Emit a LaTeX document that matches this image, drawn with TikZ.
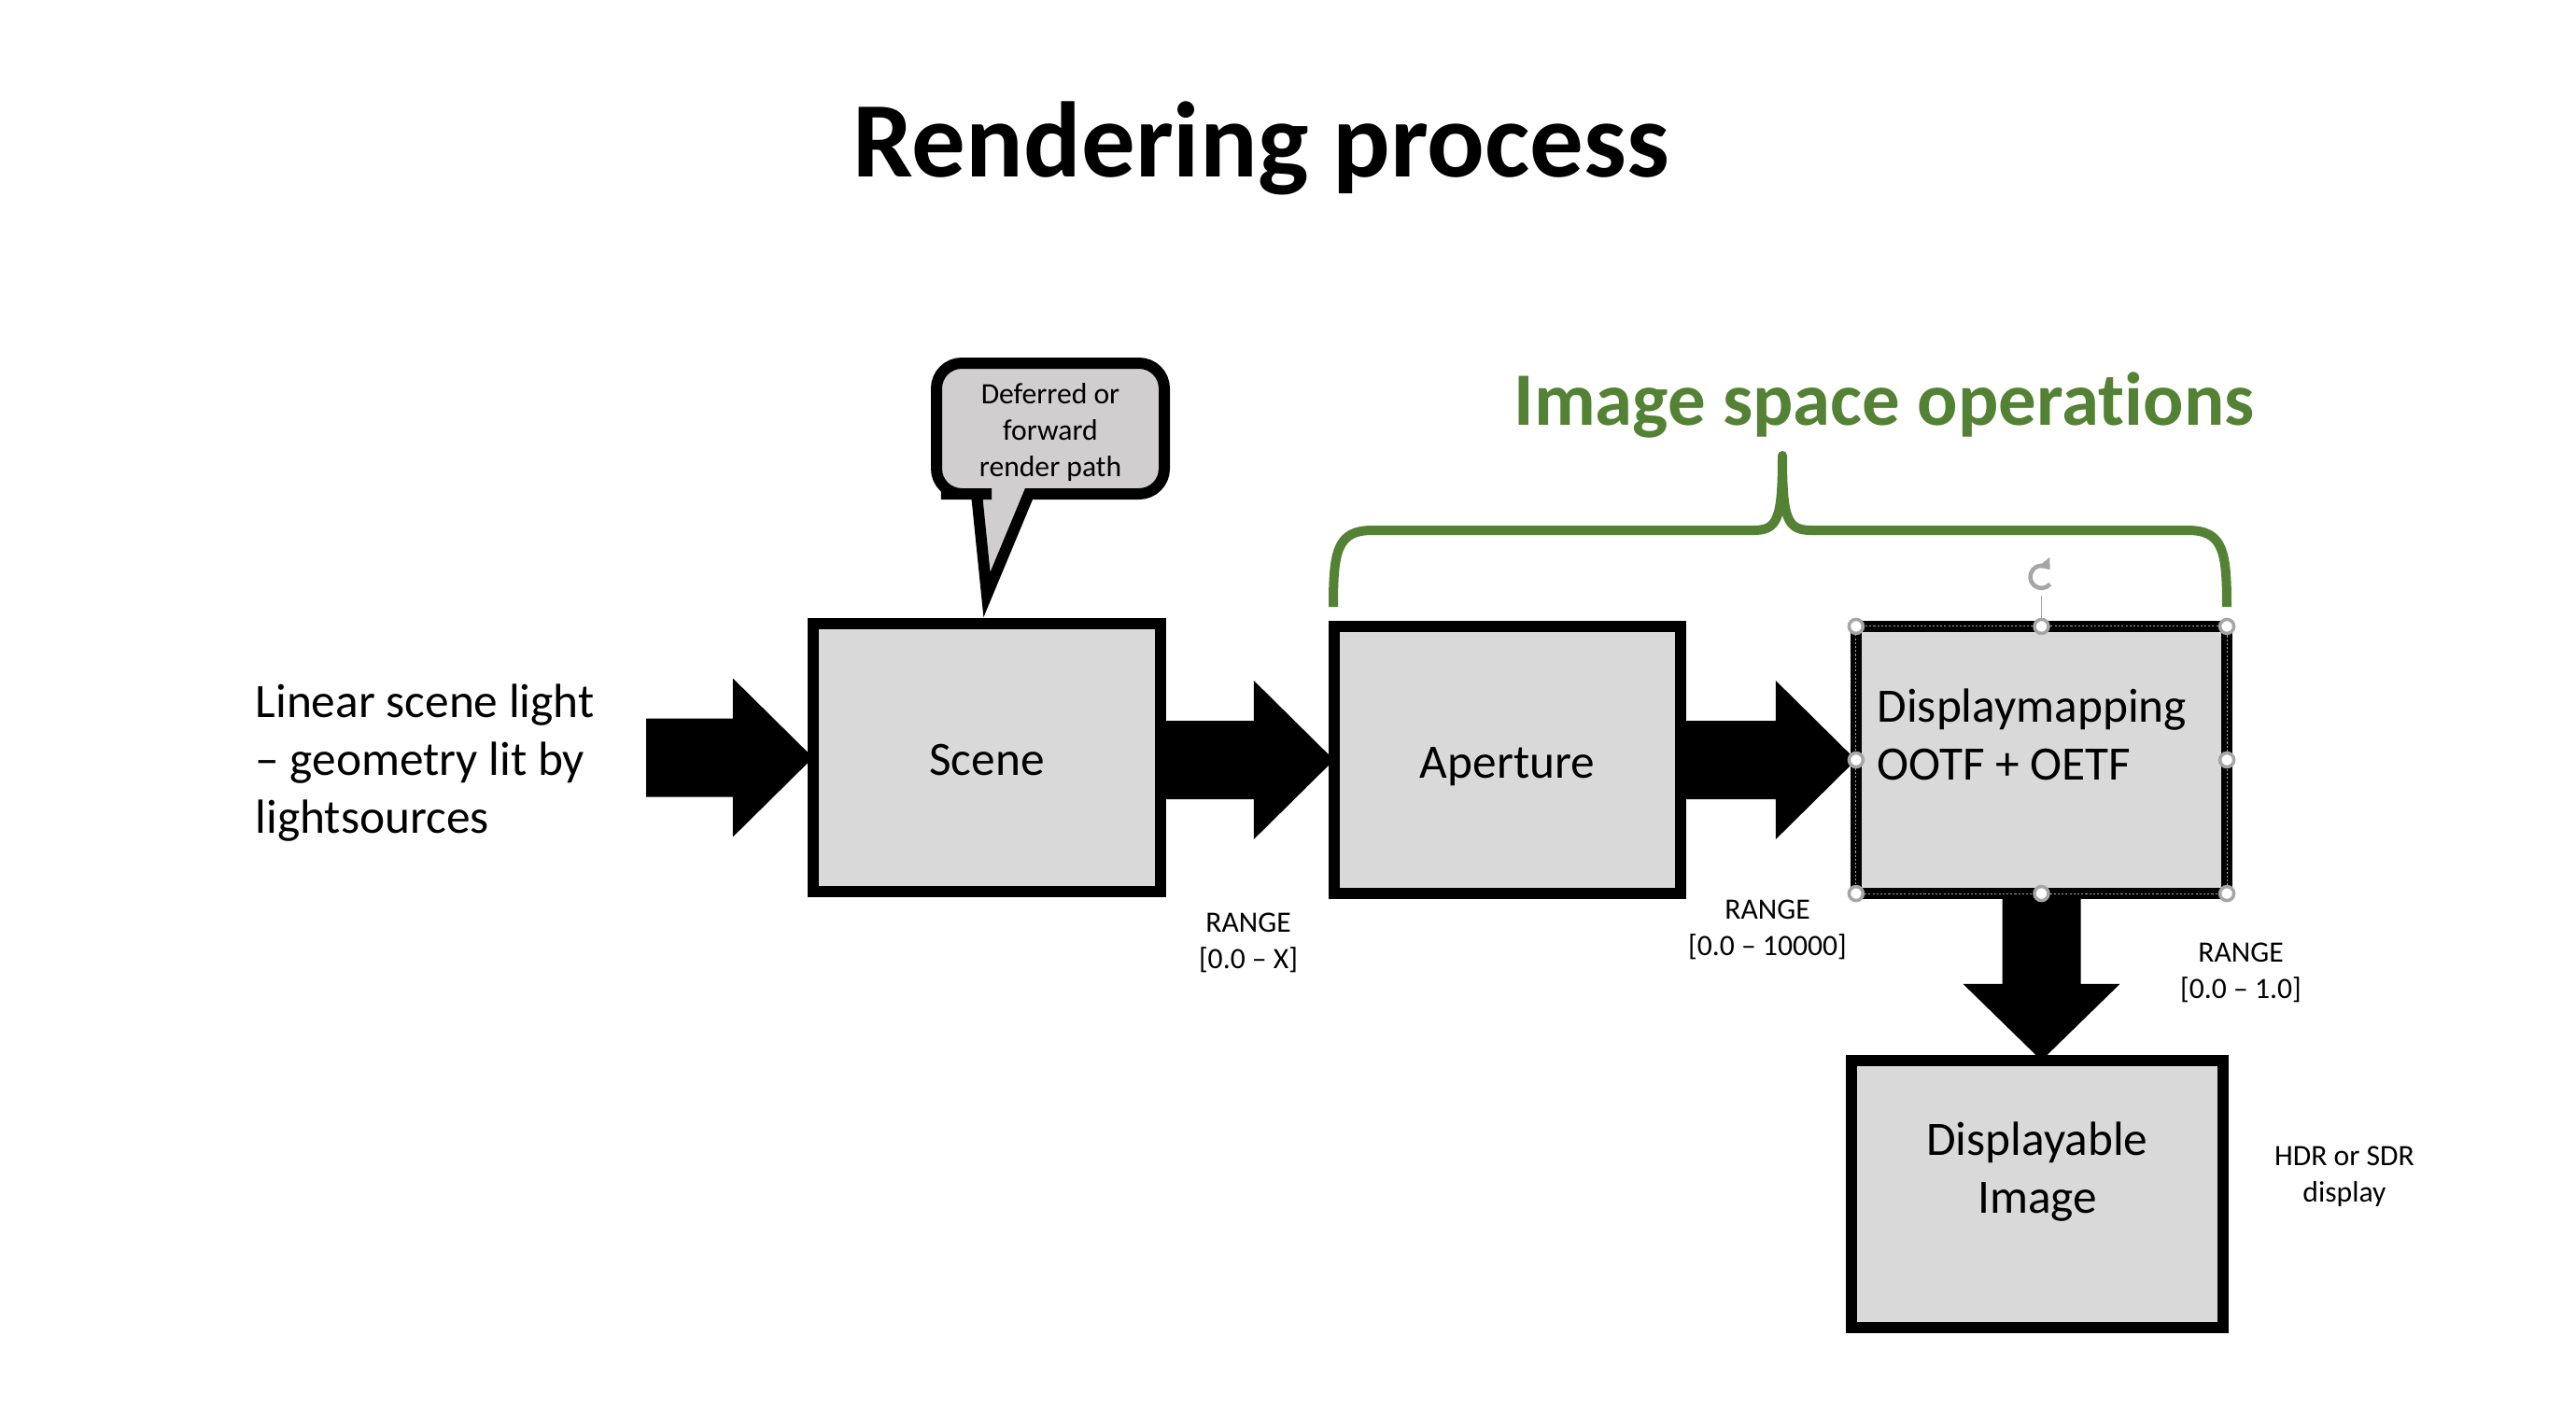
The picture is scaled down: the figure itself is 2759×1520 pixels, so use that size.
\documentclass[tikz,border=0pt]{standalone}
\usepackage{fontspec}
\setmainfont{Carlito}[Ligatures=NoCommon]
\usepackage{tikz}
\usetikzlibrary{calc,arrows.meta}
\definecolor{boxgray}{HTML}{D9D9D9}
\definecolor{callgray}{HTML}{D0CECE}
\definecolor{opgreen}{HTML}{548235}
\definecolor{selgray}{HTML}{A6A6A6}
\tikzset{
  box/.style={draw=black, fill=boxgray, line width=0.12cm, outer sep=0pt, inner sep=0pt,
    text height=10.8pt, text depth=0pt, font=\fontsize{14.6}{17.6}\selectfont},
  flow/.style={fill=black},
  brace/.style={draw=opgreen, line width=0.1cm, line join=round},
  callout/.style={draw=black, fill=callgray, line width=0.12cm, line join=miter},
  lab/.style={inner sep=0pt, font=\fontsize{14.6}{17.6}\selectfont},
  labs/.style={inner sep=0pt, align=center, font=\fontsize{9}{11}\selectfont},
  heading/.style={inner sep=0pt, anchor=base, font=\fontsize{32.7}{38}\selectfont\bfseries},
  opshead/.style={heading, text=opgreen, font=\fontsize{23}{27}\selectfont\bfseries},
  handle/.style={circle, draw=selgray, fill=white, line width=1pt, minimum size=0.15cm, inner sep=0pt},
  seldash/.style={draw=selgray, line width=0.3pt, dash pattern=on 0.6pt off 0.6pt}
}

\begin{document}
\begin{tikzpicture}[x=0.01cm, y=-0.01cm]
  \fill[white] (0,0) rectangle (2759,1520);
  \useasboundingbox (0,0) rectangle (2759,1520);

  \node[heading] (title) at (1351,189) {Rendering process};
  \node[opshead] (ops) at (2018,455) {Image space operations};

  \node[lab, align=left, anchor=west] (light) at (273,817)
    {Linear scene light\\– geometry lit by\\lightsources};

  \node[box, minimum width=3.72cm, minimum height=2.87cm] (scene) at (1057,811.5) {Scene};
  \node[box, minimum width=3.71cm, minimum height=2.86cm] (aperture) at (1614.5,814) {Aperture};
  \node[box, minimum width=3.97cm, minimum height=2.86cm] (dmap) at (2186.5,814) {};
  \node[lab, align=left, anchor=west] (dmaptxt) at ($(dmap.west)+(22,-27)$)
    {Displaymapping\\OOTF + OETF};
  \node[box, minimum width=3.98cm, minimum height=2.86cm] (dimage) at (2182,1279) {};
  \node[lab, align=center] (dimagetxt) at ($(dimage.center)+(0,-24)$)
    {Displayable\\Image};

  % block arrows
  \coordinate (in) at (692,813);
  \foreach \a/\b in {in/scene.west, scene.east/aperture.west, aperture.east/dmap.west}
    \fill[flow] ($(\a |- \b)+(0,-42)$) -- ($(\b)+(-86,-42)$) -- ($(\b)+(-86,-85)$) -- (\b)
      -- ($(\b)+(-86,85)$) -- ($(\b)+(-86,42)$) -- ($(\a |- \b)+(0,42)$) -- cycle;
  \coordinate (dtip) at (dmap.south |- dimage.north);
  \fill[flow] ($(dmap.south)+(-42,0)$) -- ($(dtip)+(-42,-82)$) -- ($(dtip)+(-84,-82)$) -- (dtip)
    -- ($(dtip)+(84,-82)$) -- ($(dtip)+(42,-82)$) -- ($(dmap.south)+(42,0)$) -- cycle;

  % callout
  \draw[callout] (1150,529) [rounded corners=0.27cm] -- (1247,529) -- (1247,389) -- (1003,389)
    -- (1003,529) -- (1035,529) [sharp corners] -- (1046,529) -- (1057,637) -- (1102,529) -- cycle;
  \node[labs] (defer) at (1125,463) {Deferred or\\forward\\render path};

  % brace over image space
  \draw[brace] (1428,650) .. controls (1428,590) and (1432,568) .. (1470,568) -- (1878,568)
    .. controls (1904,568) and (1909,556) .. (1909,488)
    .. controls (1909,556) and (1914,568) .. (1940,568) -- (2343,568)
    .. controls (2381,568) and (2385,590) .. (2385,650);

  \node[labs] (rangex) at (1337,1010) {RANGE\\{[}0.0 – X{]}};
  \node[labs] (rangek) at (1893,996) {RANGE\\{[}0.0 – 10000{]}};
  \node[labs] (rangeone) at (2400,1042) {RANGE\\{[}0.0 – 1.0{]}};
  \node[labs] (hdr) at (2511,1260) {HDR or SDR\\display};

  % selection handles
  \draw[seldash] (dmap.north west) rectangle (dmap.south east);
  \draw[selgray, line width=0.5pt] (dmap.north) -- ++(0,-33) coordinate (rotbase);
  \draw[selgray, line width=1.3pt, -{Triangle[length=3pt,width=4.5pt]}]
    ($(rotbase)+(0,-20)$) ++(-40:0.12cm) arc[start angle=-40, end angle=-320, radius=0.12cm];
  \foreach \a/\n in {north west/nw, north/n, north east/ne, east/e, south east/se,
                     south/s, south west/sw, west/w}
    \node[handle] (h\n) at (dmap.\a) {};
\end{tikzpicture}
\end{document}
